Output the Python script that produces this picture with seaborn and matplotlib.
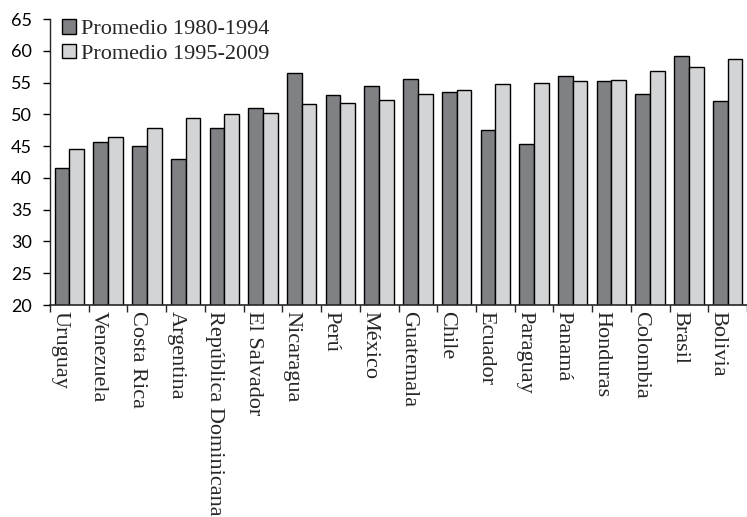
import pandas as pd
import numpy as np
import matplotlib
matplotlib.use("Agg")
import matplotlib.pyplot as plt
import seaborn as sns

# Data
paises = ["Uruguay", "Venezuela", "Costa Rica", "Argentina", "República Dominicana",
          "El Salvador", "Nicaragua", "Perú", "México", "Guatemala", "Chile",
          "Ecuador", "Paraguay", "Panamá", "Honduras", "Colombia", "Brasil", "Bolivia"]
prom_1980_1994 = [41.6, 45.7, 45.1, 43.0, 47.8, 51.0, 56.5, 53.1, 54.5,
                  55.6, 53.6, 47.6, 45.4, 56.0, 55.2, 53.2, 59.2, 52.1]
prom_1995_2009 = [44.6, 46.5, 47.8, 49.4, 50.1, 50.2, 51.7, 51.8, 52.2,
                  53.2, 53.8, 54.8, 55.0, 55.2, 55.4, 56.9, 57.4, 58.8]
series = ["Promedio 1980-1994", "Promedio 1995-2009"]
yticks = [20, 25, 30, 35, 40, 45, 50, 55, 60, 65]

df = pd.DataFrame({
    "pais": paises * 2,
    "valor": prom_1980_1994 + prom_1995_2009,
    "periodo": [series[0]] * len(paises) + [series[1]] * len(paises),
})

sns.set_style("ticks")
serif = "Liberation Serif"
sans = "Lato"

fig = plt.figure(figsize=(7.47, 5.17), dpi=100)
ax = fig.add_axes([0.067, 0.41, 0.933, 0.553])

sns.barplot(data=df, x="pais", y="valor", hue="periodo", order=paises,
            palette=["#808185", "#d3d4d6"], edgecolor="black", linewidth=1.0,
            width=0.76, saturation=1, ax=ax)

ax.set_ylim(20, 65)
ax.set_xlim(-0.5, len(paises) - 0.5)
ax.set_yticks(yticks)
ax.set_yticklabels([str(v) for v in yticks], fontfamily=sans, fontsize=13)
ax.tick_params(axis="y", length=5, width=1, pad=8, colors="black")

# category ticks sit on group boundaries, labels at group centres
ax.set_xticks(np.arange(-0.5, len(paises) - 0.4, 1.0))
ax.set_xticklabels([])
ax.tick_params(axis="x", length=5, width=1)
for i, p in enumerate(paises):
    ax.text(i, -0.022, p, transform=ax.get_xaxis_transform(), rotation=270,
            ha="right", va="top", fontfamily=serif, fontsize=16)

ax.set_xlabel("")
ax.set_ylabel("")
for s in ["top", "right"]:
    ax.spines[s].set_visible(False)
ax.spines["left"].set_linewidth(1)
ax.spines["bottom"].set_linewidth(1.2)

leg = ax.legend(loc="upper left", bbox_to_anchor=(0.005, 1.03), frameon=False,
                prop={"family": serif, "size": 16}, handlelength=0.6,
                handleheight=0.6, handletextpad=0.25, labelspacing=0.2,
                borderaxespad=0)
for h in leg.legend_handles:
    h.set_edgecolor("black")
    h.set_linewidth(1)

fig.savefig("out.png", dpi=100)
